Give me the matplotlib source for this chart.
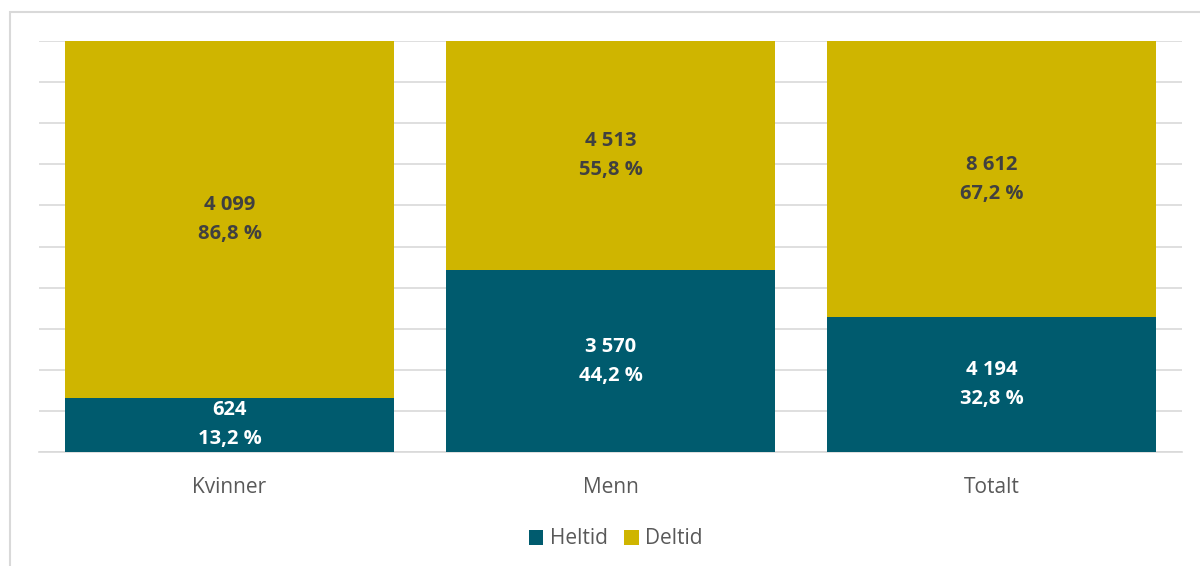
import numpy as np
import matplotlib.pyplot as plt
from matplotlib.patches import Rectangle

# Data
categories = ['Kvinner', 'Menn', 'Totalt']
heltid = [624, 3570, 4194]
deltid = [4099, 4513, 8612]

teal = '#005B6E'
gold = '#CFB500'
grid_col = '#D9D9D9'
text_col = '#595959'

plt.rcParams['font.family'] = ['Open Sans', 'DejaVu Sans']

heltid = np.array(heltid)
deltid = np.array(deltid)
total = heltid + deltid
p_hel = heltid / total
p_del = deltid / total


def fmt_num(v):
    return f"{v:,}".replace(',', ' ')


def fmt_pct(v):
    return f"{v * 100:.1f}".replace('.', ',') + ' %'


fig = plt.figure(figsize=(12, 5.66), dpi=100)
ax = fig.add_axes([39 / 1200, 1 - 452 / 566, (1182 - 39) / 1200, (452 - 41) / 566])

# ramme rundt diagrammet
fig.patches.append(Rectangle((10 / 1200, -0.1), 1.2, 1 - 12 / 566 + 0.1,
                             transform=fig.transFigure, fill=False,
                             edgecolor=grid_col, linewidth=1.5))

x = np.arange(len(categories))
w = 0.866
ax.bar(x, p_hel, w, color=teal, label='Heltid', zorder=3)
ax.bar(x, p_del, w, bottom=p_hel, color=gold, label='Deltid', zorder=3)

for i in range(len(categories)):
    ax.text(x[i], p_hel[i] / 2, fmt_num(heltid[i]) + '\n' + fmt_pct(p_hel[i]),
            ha='center', va='center', color='white', fontsize=14.5,
            fontweight='bold', linespacing=1.6, zorder=4)
    ax.text(x[i], p_hel[i] + p_del[i] / 2, fmt_num(deltid[i]) + '\n' + fmt_pct(p_del[i]),
            ha='center', va='center', color='#404040', fontsize=14.5,
            fontweight='bold', linespacing=1.6, zorder=4)

ax.set_xlim(-0.5, 2.5)
ax.set_ylim(0, 1)
ax.set_yticks(np.arange(0, 1.01, 0.1))
ax.yaxis.grid(True, color=grid_col, linewidth=1.2, zorder=0)
ax.set_yticklabels([])
ax.tick_params(axis='y', length=0)
ax.set_xticks(x)
ax.set_xticklabels(categories, fontsize=15, color=text_col)
ax.tick_params(axis='x', length=0, pad=18)
for s in ['top', 'right', 'left']:
    ax.spines[s].set_visible(False)
ax.spines['bottom'].set_color(grid_col)
ax.spines['bottom'].set_linewidth(1.2)

fig.legend(loc='center', bbox_to_anchor=(0.513, 1 - 539 / 566), ncol=2,
           frameon=False, fontsize=15, labelcolor=text_col,
           handlelength=0.7, handleheight=0.7, handletextpad=0.3,
           columnspacing=0.8)

fig.savefig('out.png', dpi=100)
